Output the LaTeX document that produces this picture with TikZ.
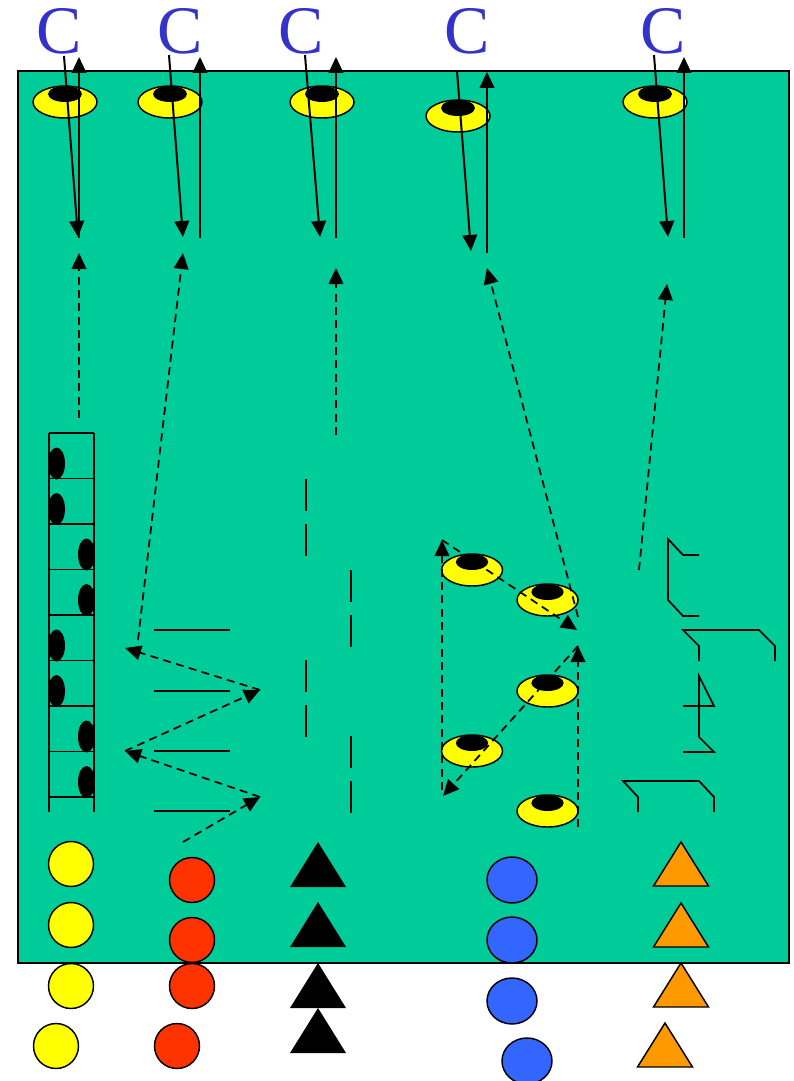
\documentclass[tikz,border=0pt]{standalone}
\usepackage{fontspec}
\setmainfont{Liberation Serif}
\usetikzlibrary{arrows.meta}

\definecolor{fieldgreen}{RGB}{0,204,153}
\definecolor{letterblue}{RGB}{51,51,204}
\definecolor{coneyellow}{RGB}{255,255,0}
\definecolor{redplayer}{RGB}{255,51,0}
\definecolor{blueplayer}{RGB}{51,102,255}
\definecolor{orangeplayer}{RGB}{255,153,0}

\begin{document}
\begin{tikzpicture}[x=0.75pt, y=-0.75pt,
  >={Triangle[length=12pt,width=11pt]}, line join=miter,
  run/.style={->, line width=1.5pt},
  jog/.style={->, line width=1.3pt, dash pattern=on 6pt off 4pt},
  kit/.style={line width=1.3pt},
  player/.style={draw, line width=1.1pt}]

  \useasboundingbox (0,0) rectangle (793,1081);

  % ===== field =====
  \draw[line width=1.1pt, fill=fieldgreen] (18,71) rectangle (789,963);

  % ===== C labels =====
  \foreach \cx/\nm in {59/c1, 180/c2, 301/c3, 467/c4, 663.5/c5}
    \node[text=letterblue, inner sep=0pt, font=\fontsize{51}{51}\selectfont]
      (\nm) at (\cx,31.5) {C};

  % ===== cones =====
  \def\cone#1#2#3{%
    \draw[line width=1.1pt, fill=coneyellow] (#1,#2) ellipse (#3 and 16);
    \fill (#1,#2-8) ellipse (#3*0.53 and 8);
  }
  % ---- top row ----
  \cone{65}{102}{32}
  \cone{170}{102}{32}
  \cone{322}{102}{32}
  \cone{458}{116}{32}
  \cone{655}{102}{32}
  % ---- slalom ----
  \cone{472}{570}{30.5}
  \cone{547.5}{600}{30.5}
  \cone{547.5}{691}{30.5}
  \cone{472}{751}{30.5}
  \cone{547.5}{811}{30.5}

  % ===== sprint lines at the top =====
  \foreach \i/\ax/\ay/\bx/\by/\ux/\uy/\vy in
    {1/64/56/78/237/79/238/57,
     2/169/55/183/237/200/238/57,
     3/305/55/320/237/336/238/57,
     4/457/71/471/251/487/253/72,
     5/654/55/668/237/684/238/57}
  {
    \coordinate (down\i) at (\ax,\ay);
    \coordinate (downend\i) at (\bx,\by);
    \coordinate (up\i) at (\ux,\uy);
    \coordinate (upend\i) at (\ux,\vy);
    \draw[run] (down\i) -- (downend\i);
    \draw[run] (up\i) -- (upend\i);
  }

  % ===== ladder =====
  \draw[kit] (49,433) -- (49,812);
  \draw[kit] (94,433) -- (94,812);
  \foreach \k in {0,...,8}
    \draw[kit] (49,433+45.5*\k) -- (94,433+45.5*\k);
  \foreach \k/\fx in {0/56.5, 1/56.5, 2/86.5, 3/86.5, 4/56.5, 5/56.5, 6/86.5, 7/86.5}
    \fill (\fx,433+45.5*\k+30.5) ellipse (8.5 and 16);

  % ===== hurdles =====
  \foreach \hy in {630,691,751,811}
    \draw[kit] (154,\hy) -- (230,\hy);

  % ===== poles =====
  \foreach \py in {479,524,660,705}
    \draw[kit] (306,\py) -- (306,\py+32);
  \foreach \py in {570,615,736,781}
    \draw[kit] (351,\py) -- (351,\py+32);

  % ===== agility frames =====
  \draw[kit] (699,555) -- (683,555) -- (668,539) -- (668,600) -- (683,616) -- (699,616);
  \draw[kit] (699,661) -- (699,646) -- (683,630) -- (759,630) -- (775,646) -- (775,661);
  \draw[kit] (683,706) -- (714,706) -- (699,676) -- (699,737) -- (714,752) -- (683,752);
  \draw[kit] (638,812) -- (638,797) -- (623,781) -- (699,781) -- (714,797) -- (714,812);

  % ===== dashed runs =====
  \coordinate (l1) at (79,418);   \coordinate (l2) at (79,253);
  \coordinate (h0) at (183,842);  \coordinate (h1) at (260,797);
  \coordinate (h2) at (125,751);  \coordinate (h3) at (260,690);
  \coordinate (h4) at (125,648);  \coordinate (h5) at (138,640);
  \coordinate (h6) at (183,253);
  \coordinate (p1) at (336,435);  \coordinate (p2) at (336,268);
  \coordinate (s0) at (578,827);  \coordinate (s1) at (578,646);
  \coordinate (s2) at (443,796);  \coordinate (s3) at (442,790);
  \coordinate (s4) at (442,540);  \coordinate (s5) at (577,630);
  \coordinate (s6) at (578,617);  \coordinate (s7) at (487,268);
  \coordinate (f1) at (639,570);  \coordinate (f2) at (667,284);

  \foreach \a/\b in {l1/l2, h0/h1, h1/h2, h2/h3, h3/h4, h5/h6, p1/p2,
                     s0/s1, s1/s2, s3/s4, s4/s5, s6/s7, f1/f2}
    \draw[jog] (\a) -- (\b);

  % ===== players =====
  % ---- yellow ----
  \foreach \px/\py in {71/864, 71/925, 71/986, 56/1046}
    \draw[player, fill=coneyellow] (\px,\py) circle (22.5);
  % ---- red ----
  \foreach \px/\py in {192/880, 192/940, 192/986, 177/1046}
    \draw[player, fill=redplayer] (\px,\py) circle (22.5);
  % ---- black ----
  \foreach \ty in {842,902,963,1008}
    \fill (318,\ty) -- (346,\ty+45) -- (290,\ty+45) -- cycle;
  % ---- blue ----
  \foreach \px/\py in {512/880, 512/940, 512/1001, 527/1061}
    \draw[player, fill=blueplayer] (\px,\py) ellipse (25 and 23);
  % ---- orange ----
  \foreach \tx/\ty in {681/842, 681/903, 681/963, 665/1023}
    \draw[player, fill=orangeplayer]
      (\tx,\ty) -- (\tx+27.5,\ty+44) -- (\tx-27.5,\ty+44) -- cycle;

\end{tikzpicture}
\end{document}
